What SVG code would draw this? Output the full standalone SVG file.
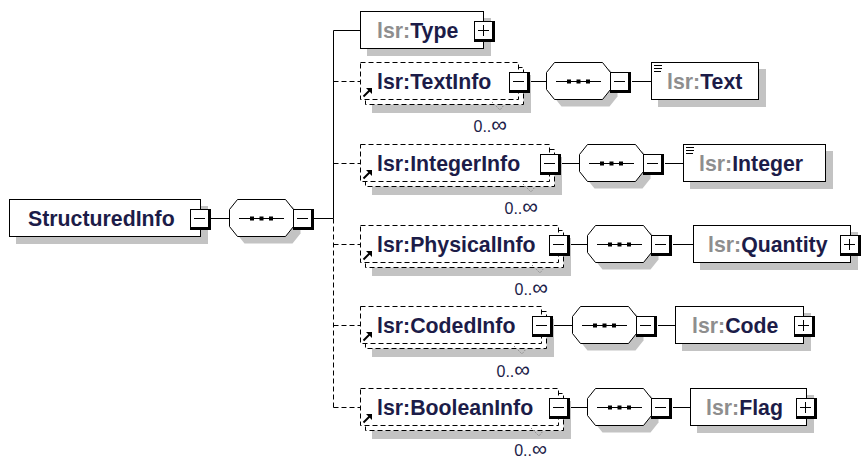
<svg xmlns="http://www.w3.org/2000/svg" xmlns:xlink="http://www.w3.org/1999/xlink" width="861" height="461" viewBox="0 0 861 461">
  <style>
    .box { fill: #fff; stroke: #000; stroke-width: 1; }
    .dbox { fill: #fff; stroke: #000; stroke-width: 1; stroke-dasharray: 5 3; }
    .shadow { fill: #c3c3c3; }
    .wire { fill: none; stroke: #000; stroke-width: 1; }
    .dwire { fill: none; stroke: #000; stroke-width: 1; stroke-dasharray: 5 3; }
    .name { font-family: "Liberation Sans", Arial, sans-serif; font-weight: bold; font-size: 21.3px; fill: #1c1c48; }
    .ns { fill: #8e8e8e; }
    .card { font-family: "Liberation Sans", Arial, sans-serif; font-size: 16px; fill: #1c1c48; }
    .notch { fill: none; stroke: #8a8a8a; stroke-width: 1; stroke-dasharray: 1.5 1.5; }
  </style>
  <defs>
    <!-- collapse / expand toggles (origin = top-left) -->
    <g id="minus">
      <rect x="0" y="0" width="21" height="21" fill="#000"/>
      <rect x="1" y="1" width="17" height="17" fill="#fff"/>
      <path d="M4,9.5 H15" stroke="#000" stroke-width="1"/>
    </g>
    <g id="plus">
      <rect x="0" y="0" width="21" height="21" fill="#000"/>
      <rect x="1" y="1" width="17" height="17" fill="#fff"/>
      <path d="M4,9.5 H15 M9.5,4 V15" stroke="#000" stroke-width="1"/>
    </g>
    <!-- sequence compositor (origin = left, centre line) -->
    <g id="seq">
      <path transform="translate(7,7)" class="shadow" d="M8.5,-18.5 H56.5 L64.5,-8.5 V8.5 L56.5,18.5 H8.5 L0.5,8.5 V-8.5 Z"/>
      <path class="box" d="M8.5,-18.5 H56.5 L64.5,-8.5 V8.5 L56.5,18.5 H8.5 L0.5,8.5 V-8.5 Z"/>
      <path class="wire" d="M10,0.5 H55"/>
      <rect x="21" y="-1.5" width="4" height="4" fill="#000"/>
      <rect x="30.5" y="-1.5" width="4" height="4" fill="#000"/>
      <rect x="40" y="-1.5" width="4" height="4" fill="#000"/>
    </g>
    <!-- reference arrow (origin = box left, centre line) -->
    <g id="ref">
      <path d="M363.5,15.5 L369.5,9.5" stroke="#000" stroke-width="2"/>
      <polygon points="366,7 372,7 372,13" fill="#000"/>
    </g>
    <!-- simple-content marker -->
    <g id="txt">
      <path d="M3,3.5 H11 M3,6.5 H11 M3,9.5 H10" stroke="#000" stroke-width="1.2"/>
    </g>
  </defs>

  <!-- connectors -->
  <g id="connectors">
    <path class="wire" d="M211,218.5 H229"/>
    <path class="wire" d="M314,218.5 H333.5"/>
    <path class="wire" d="M333.5,30.5 V218.5"/>
    <path class="dwire" d="M333.5,218.5 V407.5"/>
    <path class="wire" d="M333.5,30.5 H360"/>
    <path class="dwire" d="M333.5,81.5 H360"/>
    <path class="dwire" d="M333.5,163.5 H360"/>
    <path class="dwire" d="M333.5,244.5 H360"/>
    <path class="dwire" d="M333.5,325.5 H360"/>
    <path class="dwire" d="M333.5,407.5 H360"/>
    <!-- TextInfo branch -->
    <path class="wire" d="M530,81.5 H546 M632,81.5 H651"/>
    <!-- IntegerInfo branch -->
    <path class="wire" d="M561,163.5 H579 M665,163.5 H683"/>
    <!-- PhysicalInfo branch -->
    <path class="wire" d="M570,244.5 H587 M673,244.5 H693"/>
    <!-- CodedInfo branch -->
    <path class="wire" d="M553,325.5 H572 M658,325.5 H675"/>
    <!-- BooleanInfo branch -->
    <path class="wire" d="M570,407.5 H587 M673,407.5 H690"/>
  </g>

  <!-- root element -->
  <g id="StructuredInfo">
    <rect class="shadow" x="16" y="206" width="192" height="38"/>
    <rect class="box" x="9.5" y="199.5" width="191" height="37"/>
    <text class="name" x="28" y="226">StructuredInfo</text>
    <use xlink:href="#minus" x="190" y="209"/>
  </g>
  <g id="root-sequence">
    <use xlink:href="#seq" x="229" y="218"/>
    <use xlink:href="#minus" x="293" y="209"/>
  </g>

  <!-- lsr:Type -->
  <g id="Type">
    <rect class="shadow" x="367" y="18" width="124" height="38"/>
    <rect class="box" x="360.5" y="11.5" width="123" height="37"/>
    <text class="name" x="377" y="38"><tspan class="ns">lsr:</tspan>Type</text>
    <use xlink:href="#plus" x="474" y="21"/>
  </g>

  <!-- lsr:TextInfo -->
  <g id="TextInfo">
    <rect class="shadow" x="372" y="75" width="159" height="38"/>
    <rect class="dbox" x="365.5" y="67.5" width="158" height="37"/>
    <rect class="dbox" x="360.5" y="62.5" width="158" height="37"/>
    <use xlink:href="#ref" y="81"/>
    <text class="name" x="377" y="89">lsr:TextInfo</text>
    <use xlink:href="#minus" x="509" y="72"/>
    <polyline class="notch" points="492,102 500,110 504,105"/>
    <text class="card" x="507" y="132" text-anchor="end">0..<tspan font-size="22">∞</tspan></text>
  </g>
  <g id="TextInfo-sequence">
    <use xlink:href="#seq" x="546" y="81"/>
    <use xlink:href="#minus" x="610" y="72"/>
  </g>
  <g id="Text">
    <rect class="shadow" x="658" y="69" width="108" height="38"/>
    <rect class="box" x="651.5" y="62.5" width="107" height="37"/>
    <use xlink:href="#txt" x="651" y="62"/>
    <text class="name" x="667" y="89"><tspan class="ns">lsr:</tspan>Text</text>
  </g>

  <!-- lsr:IntegerInfo -->
  <g id="IntegerInfo">
    <rect class="shadow" x="372" y="157" width="190" height="38"/>
    <rect class="dbox" x="365.5" y="149.5" width="189" height="37"/>
    <rect class="dbox" x="360.5" y="144.5" width="189" height="37"/>
    <use xlink:href="#ref" y="163"/>
    <text class="name" x="377" y="171">lsr:IntegerInfo</text>
    <use xlink:href="#minus" x="540" y="154"/>
    <polyline class="notch" points="523,184 531,192 535,187"/>
    <text class="card" x="538" y="214" text-anchor="end">0..<tspan font-size="22">∞</tspan></text>
  </g>
  <g id="IntegerInfo-sequence">
    <use xlink:href="#seq" x="579" y="163"/>
    <use xlink:href="#minus" x="643" y="154"/>
  </g>
  <g id="Integer">
    <rect class="shadow" x="690" y="151" width="143" height="38"/>
    <rect class="box" x="683.5" y="144.5" width="142" height="37"/>
    <use xlink:href="#txt" x="683" y="144"/>
    <text class="name" x="699" y="171"><tspan class="ns">lsr:</tspan>Integer</text>
  </g>

  <!-- lsr:PhysicalInfo -->
  <g id="PhysicalInfo">
    <rect class="shadow" x="372" y="238" width="199" height="38"/>
    <rect class="dbox" x="365.5" y="230.5" width="198" height="37"/>
    <rect class="dbox" x="360.5" y="225.5" width="198" height="37"/>
    <use xlink:href="#ref" y="244"/>
    <text class="name" x="377" y="252">lsr:PhysicalInfo</text>
    <use xlink:href="#minus" x="549" y="235"/>
    <polyline class="notch" points="532,265 540,273 544,268"/>
    <text class="card" x="548" y="295" text-anchor="end">0..<tspan font-size="22">∞</tspan></text>
  </g>
  <g id="PhysicalInfo-sequence">
    <use xlink:href="#seq" x="587" y="244"/>
    <use xlink:href="#minus" x="651" y="235"/>
  </g>
  <g id="Quantity">
    <rect class="shadow" x="700" y="232" width="158" height="38"/>
    <rect class="box" x="693.5" y="225.5" width="157" height="37"/>
    <text class="name" x="708" y="252"><tspan class="ns">lsr:</tspan>Quantity</text>
    <use xlink:href="#plus" x="840" y="235"/>
  </g>

  <!-- lsr:CodedInfo -->
  <g id="CodedInfo">
    <rect class="shadow" x="372" y="319" width="182" height="38"/>
    <rect class="dbox" x="365.5" y="311.5" width="181" height="37"/>
    <rect class="dbox" x="360.5" y="306.5" width="181" height="37"/>
    <use xlink:href="#ref" y="325"/>
    <text class="name" x="377" y="333">lsr:CodedInfo</text>
    <use xlink:href="#minus" x="532" y="316"/>
    <polyline class="notch" points="514,346 522,354 526,349"/>
    <text class="card" x="530" y="377" text-anchor="end">0..<tspan font-size="22">∞</tspan></text>
  </g>
  <g id="CodedInfo-sequence">
    <use xlink:href="#seq" x="572" y="325"/>
    <use xlink:href="#minus" x="636" y="316"/>
  </g>
  <g id="Code">
    <rect class="shadow" x="682" y="313" width="129" height="38"/>
    <rect class="box" x="675.5" y="306.5" width="128" height="37"/>
    <text class="name" x="692" y="333"><tspan class="ns">lsr:</tspan>Code</text>
    <use xlink:href="#plus" x="794" y="316"/>
  </g>

  <!-- lsr:BooleanInfo -->
  <g id="BooleanInfo">
    <rect class="shadow" x="372" y="401" width="199" height="38"/>
    <rect class="dbox" x="365.5" y="393.5" width="198" height="37"/>
    <rect class="dbox" x="360.5" y="388.5" width="198" height="37"/>
    <use xlink:href="#ref" y="407"/>
    <text class="name" x="377" y="415">lsr:BooleanInfo</text>
    <use xlink:href="#minus" x="549" y="398"/>
    <polyline class="notch" points="531,428 539,436 543,431"/>
    <text class="card" x="547" y="456" text-anchor="end">0..<tspan font-size="21">∞</tspan></text>
  </g>
  <g id="BooleanInfo-sequence">
    <use xlink:href="#seq" x="587" y="407"/>
    <use xlink:href="#minus" x="651" y="398"/>
  </g>
  <g id="Flag">
    <rect class="shadow" x="697" y="395" width="117" height="38"/>
    <rect class="box" x="690.5" y="388.5" width="116" height="37"/>
    <text class="name" x="706" y="415"><tspan class="ns">lsr:</tspan>Flag</text>
    <use xlink:href="#plus" x="796" y="398"/>
  </g>
</svg>
